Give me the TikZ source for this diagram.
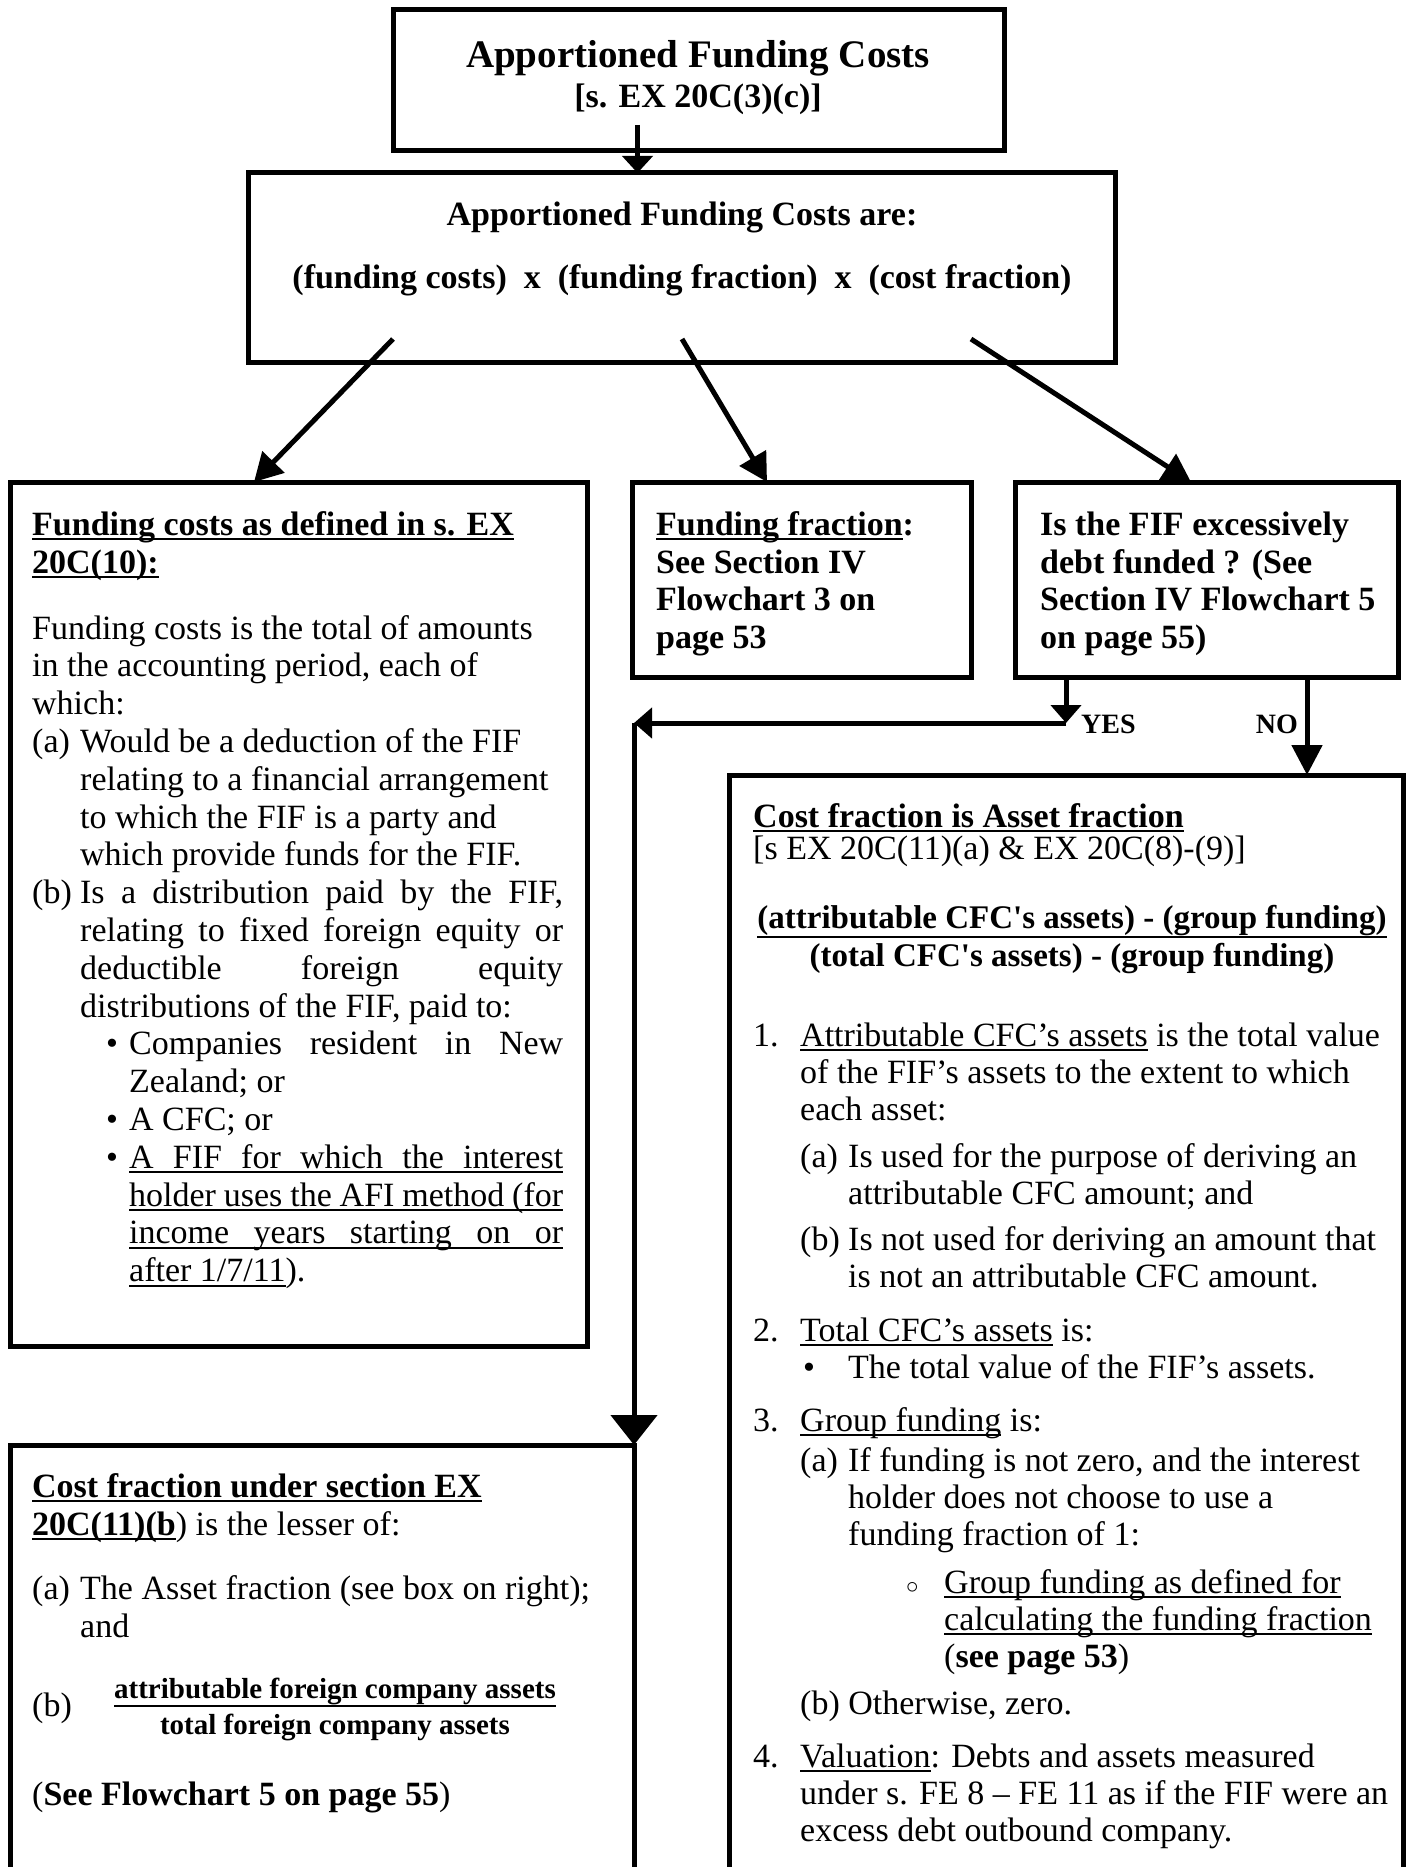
\documentclass[tikz,border=0pt]{standalone}
\usepackage{fontspec}
\setmainfont{Liberation Serif}
\usetikzlibrary{positioning,arrows.meta,calc}

\newcommand{\bodyfont}{\fontsize{34}{37.8}\selectfont}
\newsavebox{\ulbox}
\newcommand{\uln}[2][5pt]{\sbox{\ulbox}{#2}\rlap{\rule[-#1]{\wd\ulbox}{1.8pt}}\usebox{\ulbox}}
\newcommand{\tstrut}{\rule{0pt}{28pt}}
\newcommand{\jline}[2]{\makebox[#1][s]{#2}}
\newcommand{\lbl}[2]{\makebox[#1][l]{#2}}

\begin{document}
\begin{tikzpicture}[x=1pt, y=-1pt,
    box/.style={draw, line width=5pt, anchor=north west, inner sep=0pt, outer sep=0pt},
    txt/.style={anchor=north west, inner sep=0pt, align=left, font=\bodyfont},
    line/.style={anchor=base, inner sep=0pt, font=\bodyfont\bfseries},
    arrow/.style={line width=5pt, -{Triangle[length=#1, width=30pt]}},
    arrow/.default=28pt,
    bigarrow/.style={line width=5pt, -{Triangle[length=30pt, width=46pt]}},
  ]
  \useasboundingbox[fill=white] (0,0) rectangle (1409,1867);

  % boxes
  \node[box, minimum width=611pt, minimum height=141pt] (title) at (393,10) {};
  \node[box, minimum width=867pt, minimum height=189pt] (formula) at (248,173) {};
  \node[box, minimum width=577pt, minimum height=864pt] (fc) at (10,482) {};
  \node[box, minimum width=339pt, minimum height=195pt] (ff) at (632,482) {};
  \node[box, minimum width=383pt, minimum height=195pt] (fif) at (1015,482) {};
  \node[box, minimum width=674pt, minimum height=1120pt] (af) at (729,775) {};
  \node[box, minimum width=624pt, minimum height=450pt] (cf) at (10,1445) {};

  % top
  \node[line, font=\fontsize{39}{44}\selectfont\bfseries] (titlea) at (698,68) {Apportioned Funding Costs};
  \node[line] (titleb) at (698,108) {[s. EX 20C(3)(c)]};
  \node[line] (fora) at (682,226) {Apportioned Funding Costs are:};
  \node[line] (forb) at (682,289) {(funding costs)~ x ~(funding fraction)~ x ~(cost fraction)};

  % funding costs
  \node[txt] (fctext) at (32,507) {\tstrut\textbf{\uln{Funding costs as defined in s. EX}}\\
    \textbf{\uln{20C(10):}}\\[28.2pt]
    Funding costs is the total of amounts\\
    in the accounting period, each of\\
    which:\\
    \lbl{48pt}{(a)}Would be a deduction of the FIF\\
    \hspace*{48pt}relating to a financial arrangement\\
    \hspace*{48pt}to which the FIF is a party and\\
    \hspace*{48pt}which provide funds for the FIF.\\
    \lbl{48pt}{(b)}\jline{483pt}{Is a distribution paid by the FIF,}\\
    \hspace*{48pt}\jline{483pt}{relating to fixed foreign equity or}\\
    \hspace*{48pt}\jline{483pt}{deductible foreign equity}\\
    \hspace*{48pt}distributions of the FIF, paid to:\\
    \hspace*{74pt}\lbl{23pt}{\textbullet}\jline{434pt}{Companies resident in New}\\
    \hspace*{97pt}Zealand; or\\
    \hspace*{74pt}\lbl{23pt}{\textbullet}A CFC; or\\
    \hspace*{74pt}\lbl{23pt}{\textbullet}\uln{\jline{434pt}{A FIF for which the interest}}\\
    \hspace*{97pt}\uln{\jline{434pt}{holder uses the AFI method (for}}\\
    \hspace*{97pt}\uln{\jline{434pt}{income years starting on or}}\\
    \hspace*{97pt}\uln{after 1/7/11}).};

  % funding fraction and FIF question
  \node[txt, font=\bodyfont\bfseries] (fftext) at (656,507) {\tstrut\uln{Funding fraction}:\\See Section IV\\Flowchart 3 on\\page 53};
  \node[txt, font=\bodyfont\bfseries] (fiftext) at (1040,507) {\tstrut Is the FIF excessively\\debt funded ? (See\\Section IV Flowchart 5\\on page 55)};
  \node[line, font=\fontsize{28}{30}\selectfont\bfseries, anchor=base west] (yes) at (1081,733) {YES};
  \node[line, font=\fontsize{28}{30}\selectfont\bfseries, anchor=base east] (no) at (1298,733) {NO};

  % asset fraction
  \node[txt] (afhead) at (753,799) {\tstrut\textbf{\uln{Cost fraction is Asset fraction}}\\[-6pt]
    [s EX 20C(11)(a) \& EX 20C(8)-(9)]};
  \node[txt, anchor=north, align=center, font=\fontsize{33}{38}\selectfont\bfseries] (affrac) at (1072,900)
    {\tstrut\uln[10pt]{(attributable CFC\textquotesingle s assets) - (group funding)}\\(total CFC\textquotesingle s assets) - (group funding)};
  \node[txt, font=\fontsize{34}{37}\selectfont] (aflist) at (753,1018) {\tstrut\lbl{47pt}{1.}\uln{Attributable CFC’s assets} is the total value\\
    \hspace*{47pt}of the FIF’s assets to the extent to which\\
    \hspace*{47pt}each asset:\\[10pt]
    \hspace*{47pt}\lbl{48pt}{(a)}Is used for the purpose of deriving an\\
    \hspace*{95pt}attributable CFC amount; and\\[9pt]
    \hspace*{47pt}\lbl{48pt}{(b)}Is not used for deriving an amount that\\
    \hspace*{95pt}is not an attributable CFC amount.\\[17pt]
    \lbl{47pt}{2.}\uln{Total CFC’s assets} is:\\
    \hspace*{50pt}\lbl{45pt}{\textbullet}The total value of the FIF’s assets.\\[16pt]
    \lbl{47pt}{3.}\uln{Group funding} is:\\[3pt]
    \hspace*{47pt}\lbl{48pt}{(a)}If funding is not zero, and the interest\\
    \hspace*{95pt}holder does not choose to use a\\
    \hspace*{95pt}funding fraction of 1:\\[11pt]
    \hspace*{153pt}\lbl{38pt}{$\circ$}\uln{Group funding as defined for}\\
    \hspace*{191pt}\uln{calculating the funding fraction}\\
    \hspace*{191pt}(\textbf{see page 53})\\[10pt]
    \hspace*{47pt}(b) Otherwise, zero.\\[16pt]
    \lbl{47pt}{4.}\uln{Valuation}: Debts and assets measured\\
    \hspace*{47pt}under s. FE 8 -- FE 11 as if the FIF were an\\
    \hspace*{47pt}excess debt outbound company.};

  % cost fraction (b)
  \node[txt] (cftext) at (32,1469) {\tstrut\textbf{\uln{Cost fraction under section EX}}\\
    \textbf{\uln{20C(11)(b}}) is the lesser of:\\[27pt]
    \lbl{48pt}{(a)}The Asset fraction (see box on right);\\
    \hspace*{48pt}and};
  \node[line, font=\bodyfont, anchor=base west] (cfb) at (32,1716) {(b)};
  \node[txt, anchor=north, align=center, font=\fontsize{29}{36}\selectfont\bfseries] (cffrac) at (335,1673)
    {\rule{0pt}{25pt}\uln[9pt]{attributable foreign company assets}\\total foreign company assets};
  \node[line, font=\bodyfont, anchor=base west] (cfsee) at (32,1805) {(\textbf{See Flowchart 5 on page 55})};

  % connectors
  \coordinate (top1) at ([xshift=-61pt, yshift=26pt]title.south);
  \draw[arrow=17pt] (top1) -- (top1 |- formula.north);
  \coordinate (d1) at ([xshift=145pt, yshift=23pt]formula.south west);
  \coordinate (d2) at ([xshift=434pt, yshift=23pt]formula.south west);
  \coordinate (d3) at ([xshift=723pt, yshift=23pt]formula.south west);
  \draw[arrow] (d1) -- ([xshift=244pt]fc.north west);
  \draw[arrow] (d2) -- ([xshift=135pt]ff.north west);
  \draw[arrow] (d3) -- ([xshift=176pt]fif.north west);

  \coordinate (yesstart) at ([xshift=51pt]fif.south west);
  \coordinate (yesturn) at ([yshift=-46pt]yesstart);
  \coordinate (corner) at (cf.north east |- yesturn);
  \draw[arrow=18pt] (yesstart) -- (yesturn);
  \draw[arrow=18pt] (yesturn) -- (corner);
  \draw[bigarrow] (corner) -- (cf.north east);

  \coordinate (nostart) at ([xshift=-91pt]fif.south east);
  \draw[arrow=30pt] (nostart) -- (nostart |- af.north);
\end{tikzpicture}
\end{document}
